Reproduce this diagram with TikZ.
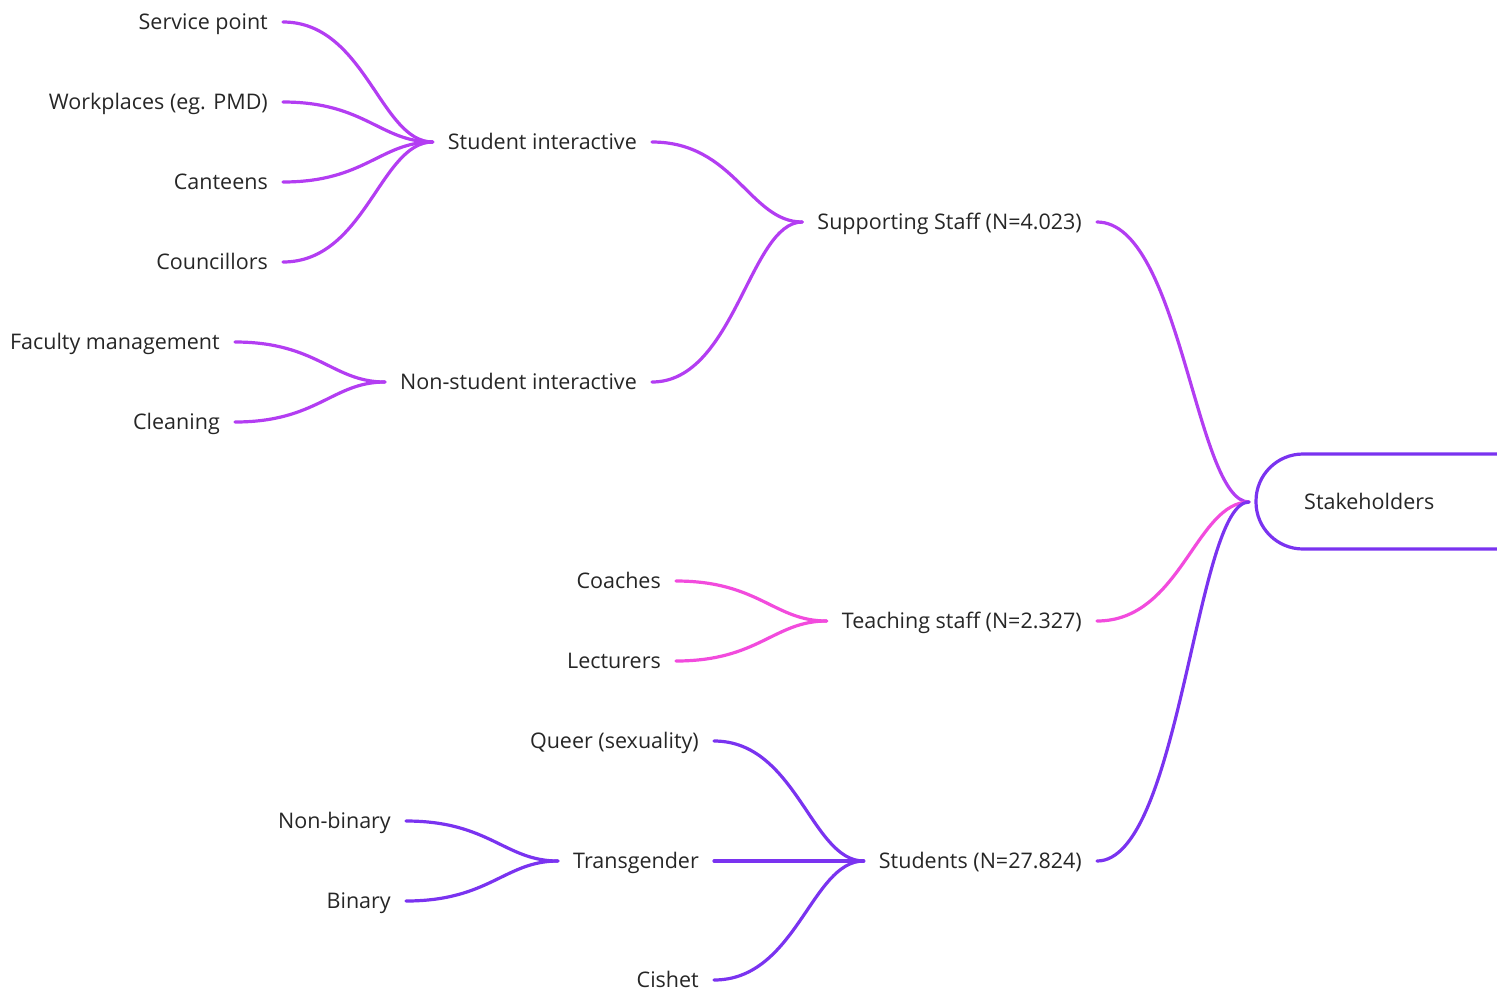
\documentclass[tikz,border=0pt]{standalone}
\usepackage{fontspec}
\setmainfont{Open Sans}
\usetikzlibrary{calc}
\definecolor{staffc}{HTML}{B33DF2}
\definecolor{teachc}{HTML}{F24BDD}
\definecolor{studc}{HTML}{7A33F0}
\definecolor{inkc}{HTML}{262626}

\begin{document}
\begin{tikzpicture}[x=1pt,y=-1pt,
  lbl/.style={font=\fontsize{21.5}{24}\selectfont, text=inkc, inner xsep=15pt,
    inner ysep=0pt, text height=15pt, text depth=1pt, anchor=east},
  link/.style={line width=3.2pt, line cap=round,
    to path={let \p1=(\tikztostart), \p2=(\tikztotarget) in
      .. controls ({\x1+0.55*(\x2-\x1)},\y1) and ({\x2-0.35*(\x2-\x1)},\y2) .. (\tikztotarget)}}]
\useasboundingbox (0,0) rectangle (1497,989);
\clip (0,0) rectangle (1497,989);

% root box, open towards the right edge
\draw[studc, line width=3.2pt, rounded corners=47pt]
  (1530,454) -- (1256,454) -- (1256,549) -- (1530,549);
\node[lbl, anchor=west, inner xsep=0pt] (stake) at (1304,502) {Stakeholders};
\coordinate (hub) at (1249,502);

% first level
\node[lbl] (supp) at (1097,222) {Supporting Staff (N=4.023)};
\node[lbl] (teach) at (1097,621) {Teaching staff (N=2.327)};
\node[lbl] (stud) at (1097,861) {Students (N=27.824)};

% supporting staff branch
\node[lbl] (sint) at (652,142) {Student interactive};
\node[lbl] (nsint) at (652,382) {Non-student interactive};
\node[lbl] (serv) at (283,22) {Service point};
\node[lbl] (work) at (283,102) {Workplaces (eg. PMD)};
\node[lbl] (cant) at (283,182) {Canteens};
\node[lbl] (coun) at (283,262) {Councillors};
\node[lbl] (facm) at (235,342) {Faculty management};
\node[lbl] (clean) at (235,422) {Cleaning};

% teaching staff branch
\node[lbl] (coach) at (676,581) {Coaches};
\node[lbl] (lect) at (676,661) {Lecturers};

% students branch
\node[lbl] (queer) at (714,741) {Queer (sexuality)};
\node[lbl] (trans) at (714,861) {Transgender};
\node[lbl] (cish) at (714,980) {Cishet};
\node[lbl] (nbin) at (406,821) {Non-binary};
\node[lbl] (bin) at (406,901) {Binary};

% connectors
\begin{scope}[staffc]
  \draw[link] (supp.east) to (hub);
  \draw[link] (sint.east) to (supp.west);
  \draw[link] (nsint.east) to (supp.west);
  \draw[link] (serv.east) to (sint.west);
  \draw[link] (work.east) to (sint.west);
  \draw[link] (cant.east) to (sint.west);
  \draw[link] (coun.east) to (sint.west);
  \draw[link] (facm.east) to (nsint.west);
  \draw[link] (clean.east) to (nsint.west);
\end{scope}
\begin{scope}[teachc]
  \draw[link] (teach.east) to (hub);
  \draw[link] (coach.east) to (teach.west);
  \draw[link] (lect.east) to (teach.west);
\end{scope}
\begin{scope}[studc]
  \draw[link] (stud.east) to (hub);
  \draw[link] (queer.east) to (stud.west);
  \draw[link] (trans.east) to (stud.west);
  \draw[link] (cish.east) to (stud.west);
  \draw[link] (nbin.east) to (trans.west);
  \draw[link] (bin.east) to (trans.west);
\end{scope}
\end{tikzpicture}
\end{document}
